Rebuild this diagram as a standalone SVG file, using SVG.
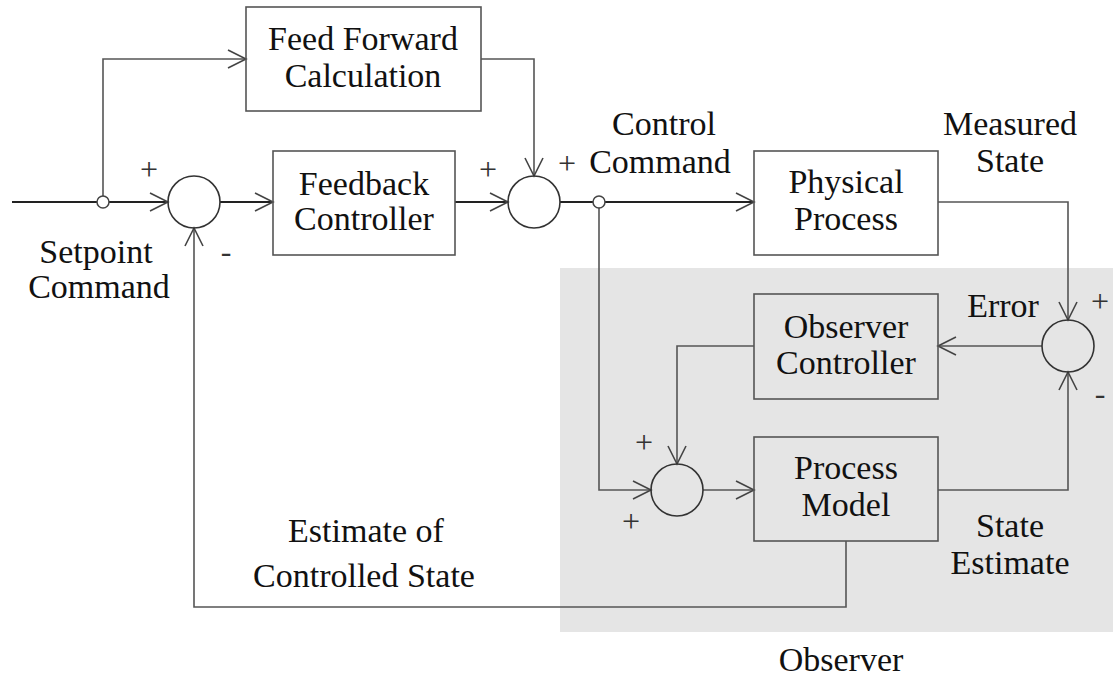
<svg xmlns="http://www.w3.org/2000/svg" width="1113" height="677" viewBox="0 0 1113 677">
<style>
.t{font-family:"Liberation Serif","Times New Roman",serif;font-size:34px;fill:#111;text-anchor:middle}
.s{font-family:"Liberation Serif","Times New Roman",serif;font-size:32px;fill:#333;text-anchor:middle}
.box{fill:none;stroke:#555;stroke-width:1.6}
.sum{fill:none;stroke:#333;stroke-width:1.6}
.jn{fill:#fff;stroke:#444;stroke-width:1.5}
.c{fill:none;stroke:#555;stroke-width:1.6;marker-end:url(#arr)}
.m{stroke:#222;stroke-width:2}
</style>
<defs>
<marker id="arr" markerUnits="userSpaceOnUse" markerWidth="24" markerHeight="24" viewBox="-20 -12 24 24" refX="0" refY="0" orient="auto">
<path d="M-18,-9 L0,0 L-18,9" fill="none" stroke="#444" stroke-width="1.6"/>
</marker>
</defs>
<rect id="observer-region" x="560" y="268" width="553" height="364" fill="#e5e5e5"/>
<g id="connectors">
<path class="c m" d="M12,202 H168"/>
<path class="c" d="M103,202 V59 H246"/>
<path class="c" d="M481,59 H534 V176"/>
<path class="c m" d="M220,202 H273"/>
<path class="c m" d="M455,202 H508"/>
<path class="c m" d="M560,202 H754"/>
<path class="c" d="M938,202 H1068 V320"/>
<path class="c" d="M1042,346 H938"/>
<path class="c" d="M754,346 H677 V464"/>
<path class="c" d="M599,202 V490 H651"/>
<path class="c" d="M703,490 H754"/>
<path class="c" d="M938,490 H1068 V372"/>
<path class="c" d="M846,541 V607 H194 V228"/>
</g>
<g id="junction1"><circle class="jn" cx="103" cy="202" r="6"/></g>
<g id="junction2"><circle class="jn" cx="599" cy="202" r="6"/></g>
<g id="setpoint-label"><text class="t" x="96" y="263">Setpoint</text><text class="t" x="99" y="298">Command</text></g>
<g id="feed-forward"><rect class="box" x="246" y="7" width="235" height="104"/><text class="t" x="363" y="50">Feed Forward</text><text class="t" x="363" y="87">Calculation</text></g>
<g id="sum1"><circle class="sum" cx="194" cy="202" r="26"/><text class="s" x="149" y="180">+</text><text class="s" x="226" y="262">-</text></g>
<g id="feedback-controller"><rect class="box" x="273" y="151" width="182" height="104"/><text class="t" x="364" y="195">Feedback</text><text class="t" x="364" y="230">Controller</text></g>
<g id="sum2"><circle class="sum" cx="534" cy="202" r="26"/><text class="s" x="488" y="180">+</text><text class="s" x="567" y="174">+</text></g>
<g id="control-command-label"><text class="t" x="664" y="135">Control</text><text class="t" x="660" y="173">Command</text></g>
<g id="physical-process"><rect class="box" x="754" y="151" width="184" height="104"/><text class="t" x="846" y="193">Physical</text><text class="t" x="846" y="230">Process</text></g>
<g id="measured-label"><text class="t" x="1010" y="135">Measured</text><text class="t" x="1010" y="172">State</text></g>
<g id="sum3"><circle class="sum" cx="1068" cy="346" r="26"/><text class="s" x="1100" y="312">+</text><text class="s" x="1100" y="404">-</text></g>
<g id="error-label"><text class="t" x="1003" y="317">Error</text></g>
<g id="observer-controller"><rect class="box" x="754" y="294" width="184" height="105"/><text class="t" x="846" y="338">Observer</text><text class="t" x="846" y="374">Controller</text></g>
<g id="sum4"><circle class="sum" cx="677" cy="490" r="26"/><text class="s" x="644" y="453">+</text><text class="s" x="631" y="532">+</text></g>
<g id="process-model"><rect class="box" x="754" y="437" width="184" height="104"/><text class="t" x="846" y="479">Process</text><text class="t" x="846" y="516">Model</text></g>
<g id="state-estimate-label"><text class="t" x="1010" y="537">State</text><text class="t" x="1010" y="574">Estimate</text></g>
<g id="estimate-label"><text class="t" x="366" y="542">Estimate of</text><text class="t" x="364" y="587">Controlled State</text></g>
<g id="observer-label"><text class="t" x="841" y="671">Observer</text></g>
</svg>
